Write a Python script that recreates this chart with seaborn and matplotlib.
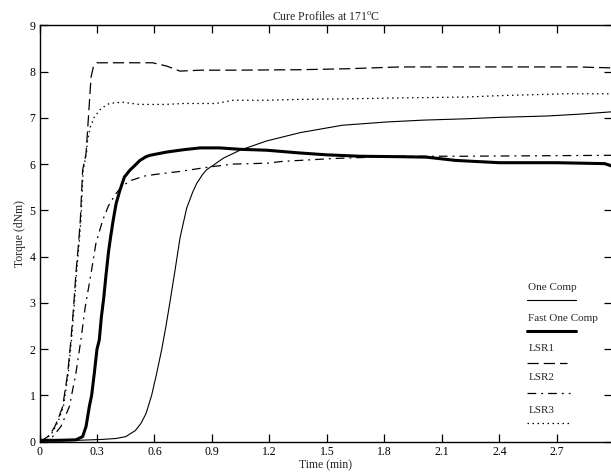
import matplotlib
matplotlib.use("Agg")
import matplotlib.pyplot as plt
import seaborn as sns
import pandas as pd

# ---- data ----
one_comp_t = [0, 0.1, 0.2, 0.33, 0.4, 0.45, 0.5, 0.53, 0.556, 0.585, 0.61, 0.638, 0.66, 0.68,
              0.707, 0.733, 0.768, 0.8, 0.82, 0.85, 0.872, 0.905, 0.96, 1.046, 1.185, 1.36,
              1.58, 1.81, 2.0, 2.23, 2.4, 2.65, 2.82, 2.985]
one_comp_v = [0.02, 0.02, 0.03, 0.05, 0.07, 0.11, 0.24, 0.4, 0.61, 1.0, 1.45, 2.0, 2.5, 3.0,
              3.7, 4.4, 5.05, 5.4, 5.58, 5.77, 5.88, 5.97, 6.13, 6.3, 6.5, 6.68,
              6.84, 6.91, 6.95, 6.98, 7.01, 7.04, 7.08, 7.13]

fast_t = [0, 0.1, 0.19, 0.225, 0.243, 0.26, 0.272, 0.286, 0.3, 0.312, 0.323, 0.335, 0.347,
          0.36, 0.372, 0.385, 0.40, 0.42, 0.443, 0.472, 0.5, 0.524, 0.556, 0.576, 0.663,
          0.75, 0.837, 0.94, 1.046, 1.185, 1.36, 1.5, 1.67, 1.88, 2.02, 2.17, 2.40, 2.7,
          2.95, 2.985]
fast_v = [0.03, 0.03, 0.04, 0.11, 0.33, 0.76, 1.0, 1.48, 2.0, 2.2, 2.7, 3.1, 3.6,
          4.1, 4.45, 4.8, 5.15, 5.44, 5.72, 5.87, 5.98, 6.08, 6.16, 6.19, 6.26,
          6.31, 6.35, 6.35, 6.32, 6.3, 6.24, 6.2, 6.17, 6.16, 6.15, 6.08, 6.03, 6.03,
          6.01, 5.96]

lsr1_t = [0, 0.017, 0.04, 0.06, 0.08, 0.095, 0.121, 0.147, 0.164, 0.178, 0.19, 0.204,
          0.213, 0.225, 0.243, 0.26, 0.269, 0.281, 0.30, 0.45, 0.59, 0.663, 0.733, 0.84,
          1.0, 1.36, 1.6, 1.88, 2.2, 2.5, 2.8, 2.985]
lsr1_v = [0, 0.04, 0.1, 0.19, 0.33, 0.47, 0.76, 1.48, 2.2, 2.92, 3.64, 4.3,
          4.79, 5.87, 6.23, 7.31, 7.88, 8.1, 8.19, 8.19, 8.19, 8.12, 8.01, 8.03,
          8.03, 8.04, 8.06, 8.1, 8.1, 8.1, 8.1, 8.08]

lsr2_t = [0, 0.03, 0.069, 0.112, 0.156, 0.19, 0.216, 0.239, 0.269, 0.295, 0.33, 0.36,
          0.4, 0.44, 0.48, 0.545, 0.61, 0.73, 0.89, 1.01, 1.19, 1.27, 1.36, 1.53, 1.88,
          2.2, 2.6, 2.985]
lsr2_v = [0, 0.02, 0.11, 0.33, 0.76, 1.48, 2.2, 2.92, 3.64, 4.3, 4.79, 5.1,
          5.37, 5.55, 5.65, 5.74, 5.78, 5.84, 5.94, 6.0, 6.02, 6.06, 6.08, 6.12, 6.17,
          6.17, 6.18, 6.19]

lsr3_t = [0, 0.02, 0.045, 0.065, 0.085, 0.1, 0.125, 0.15, 0.167, 0.181, 0.193, 0.207,
          0.216, 0.228, 0.245, 0.251, 0.265, 0.286, 0.321, 0.364, 0.43, 0.52, 0.66, 0.75,
          0.92, 1.01, 1.19, 1.36, 1.6, 1.88, 2.23, 2.4, 2.75, 2.985]
lsr3_v = [0, 0.04, 0.1, 0.19, 0.33, 0.47, 0.76, 1.48, 2.2, 2.92, 3.64, 4.3,
          4.79, 5.87, 6.23, 6.52, 6.8, 7.02, 7.2, 7.31, 7.34, 7.29, 7.29, 7.31,
          7.31, 7.38, 7.38, 7.4, 7.41, 7.43, 7.45, 7.48, 7.52, 7.52]

series_names = ["One Comp", "Fast One Comp", "LSR1", "LSR2", "LSR3"]
x_ticks = [0, 0.3, 0.6, 0.9, 1.2, 1.5, 1.8, 2.1, 2.4, 2.7]
x_tick_labels = ["0", "0.3", "0.6", "0.9", "1.2", "1.5", "1.8", "2.1", "2.4", "2.7"]
y_ticks = [0, 1, 2, 3, 4, 5, 6, 7, 8, 9]

# ---- styling ----
sns.set_theme(style="ticks")
plt.rcParams["font.family"] = ["Liberation Serif", "DejaVu Serif"]
plt.rcParams["mathtext.fontset"] = "custom"
plt.rcParams["mathtext.rm"] = "Liberation Serif"
plt.rcParams["mathtext.it"] = "Liberation Serif:italic"

styles = {
    "One Comp": dict(lw=0.8, ls="-"),
    "Fast One Comp": dict(lw=2.2, ls="-"),
    "LSR1": dict(lw=0.9, ls=(0, (9, 4))),
    "LSR2": dict(lw=0.9, ls=(0, (7, 4, 1.5, 4))),
    "LSR3": dict(lw=0.9, ls=(0, (1.2, 2.8))),
}

frames = {
    "One Comp": pd.DataFrame({"t": one_comp_t, "v": one_comp_v}),
    "Fast One Comp": pd.DataFrame({"t": fast_t, "v": fast_v}),
    "LSR1": pd.DataFrame({"t": lsr1_t, "v": lsr1_v}),
    "LSR2": pd.DataFrame({"t": lsr2_t, "v": lsr2_v}),
    "LSR3": pd.DataFrame({"t": lsr3_t, "v": lsr3_v}),
}

fig = plt.figure(figsize=(6.11, 4.76), dpi=100)
ax = fig.add_axes([39.5 / 611, 34.3 / 476, (612.5 - 39.5) / 611, (441.7 - 25.3) / 476])

for name in series_names:
    st = styles[name]
    sns.lineplot(data=frames[name], x="t", y="v", ax=ax, color="black",
                 linewidth=st["lw"], linestyle=st["ls"], sort=False,
                 estimator=None, legend=False)

ax.set_xlim(0, 2.99)
ax.set_ylim(0, 9)
ax.set_xticks(x_ticks)
ax.set_xticklabels(x_tick_labels)
ax.set_yticks(y_ticks)
ax.tick_params(direction="in", length=6, width=0.9, labelsize=8.5, pad=3,
               top=True, right=True, colors="black")
for side in ["left", "bottom", "top", "right"]:
    ax.spines[side].set_linewidth(1.0)
    ax.spines[side].set_color("black")
ax.spines["right"].set_visible(False)

ax.set_xlabel("Time (min)", fontsize=8.5, labelpad=1)
ax.set_ylabel("Torque (dNm)", fontsize=8.5, labelpad=2.5)
ax.set_title(r"Cure Profiles at 171$^{\mathrm{o}}$C", fontsize=8.5, pad=4)

# Mathcad-style legend: label text above a line sample
leg_x0 = 0.850
leg_entries = [
    ("One Comp", 0.371, 0.341, 0.937),
    ("Fast One Comp", 0.297, 0.266, 0.937),
    ("LSR1", 0.223, 0.189, 0.920),
    ("LSR2", 0.153, 0.117, 0.925),
    ("LSR3", 0.076, 0.045, 0.925),
]
for name, ty, ly, x1 in leg_entries:
    st = styles[name]
    ax.text(leg_x0 + 0.003, ty, name, transform=ax.transAxes, fontsize=8,
            ha="left", va="center")
    ax.plot([leg_x0, x1], [ly, ly], transform=ax.transAxes, color="black",
            linewidth=st["lw"], linestyle=st["ls"], clip_on=False)

fig.savefig("out.png", dpi=100)
